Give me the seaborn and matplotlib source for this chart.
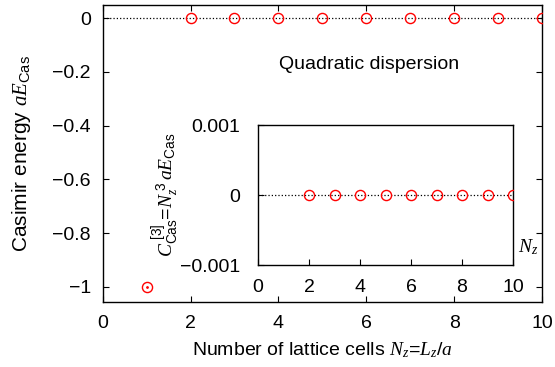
import matplotlib
matplotlib.use('Agg')
import matplotlib.pyplot as plt
import seaborn as sns
from matplotlib.ticker import FuncFormatter

# data
nz_main = [1, 2, 3, 4, 5, 6, 7, 8, 9, 10]
e_cas = [-1, 0, 0, 0, 0, 0, 0, 0, 0, 0]
nz_inset = [2, 3, 4, 5, 6, 7, 8, 9, 10]
c_cas3 = [0, 0, 0, 0, 0, 0, 0, 0, 0]

main_xticks = [0, 2, 4, 6, 8, 10]
main_yticks = [-1, -0.8, -0.6, -0.4, -0.2, 0]
inset_xticks = [0, 2, 4, 6, 8, 10]
inset_yticks = [-0.001, 0, 0.001]

sns.set_theme(style='ticks')
plt.rcParams['font.family'] = ['Liberation Sans', 'DejaVu Sans']
plt.rcParams['text.color'] = 'black'
plt.rcParams['axes.labelcolor'] = 'black'
plt.rcParams['mathtext.fontset'] = 'custom'
plt.rcParams['mathtext.rm'] = 'Liberation Sans'
plt.rcParams['mathtext.it'] = 'Liberation Serif:italic'
plt.rcParams['mathtext.bf'] = 'Liberation Sans:bold'

FS = 14

def fmt(v, pos):
    if abs(v) < 1e-12:
        return '0'
    return ('%g' % v).replace('-', '\u2212')

def style_axes(ax, xpad, ypad):
    for sp in ax.spines.values():
        sp.set_color('black')
        sp.set_linewidth(1.0)
    ax.tick_params(direction='in', length=4, width=0.8, colors='black',
                   labelcolor='black', labelsize=FS)
    ax.tick_params(axis='x', pad=xpad)
    ax.tick_params(axis='y', pad=ypad)

fig = plt.figure(figsize=(5.55, 3.67), dpi=100)
ax = fig.add_axes([0.185, 0.178, 0.7915, 0.809])

ax.axhline(0, color='black', ls=':', lw=0.9, zorder=1)
sns.lineplot(x=nz_main, y=e_cas, ax=ax, marker='o', linestyle='none',
             mfc='none', mec='red', ms=7.3, mew=1.0, zorder=3)
ax.plot(nz_main[:1], e_cas[:1], marker='.', color='red', ms=2, ls='none')

ax.set_xlim(0, 10)
ax.set_ylim(-1.055, 0.05)
ax.set_xticks(main_xticks)
ax.set_yticks(main_yticks)
ax.xaxis.set_major_formatter(FuncFormatter(fmt))
ax.yaxis.set_major_formatter(FuncFormatter(fmt))
style_axes(ax, 9.5, 8.5)
ax.tick_params(top=True, right=True)
ax.set_xlabel(r'Number of lattice cells $N_z$=$L_z/a$', fontsize=FS, labelpad=6)
ax.set_ylabel(r'Casimir energy $aE_{\rm Cas}$', fontsize=15)
ax.yaxis.set_label_coords(-0.159, 0.5)
ax.text(0.607, 0.80, 'Quadratic dispersion', transform=ax.transAxes,
        ha='center', va='center', fontsize=FS)

ins = fig.add_axes([0.4649, 0.2779, 0.4595, 0.3815])
ins.axhline(0, color='black', ls=':', lw=0.9, zorder=1)
sns.lineplot(x=nz_inset, y=c_cas3, ax=ins, marker='o', linestyle='none',
             mfc='none', mec='red', ms=7.3, mew=1.0, zorder=3)
ins.set_xlim(0, 10)
ins.set_ylim(-0.001, 0.001)
ins.set_xticks(inset_xticks)
ins.set_yticks(inset_yticks)
ins.xaxis.set_major_formatter(FuncFormatter(fmt))
ins.yaxis.set_major_formatter(FuncFormatter(fmt))
style_axes(ins, 10, 13)
ins.set_ylabel(r'$C_{\rm Cas}^{\ [3]}$=$N_z^{\ 3}\,aE_{\rm Cas}$', fontsize=FS)
ins.yaxis.set_label_coords(-0.298, 0.5)
ins.text(1.02, 0.13, r'$N_z$', transform=ins.transAxes, ha='left', va='center', fontsize=FS)

fig.savefig('out.png', dpi=100)
